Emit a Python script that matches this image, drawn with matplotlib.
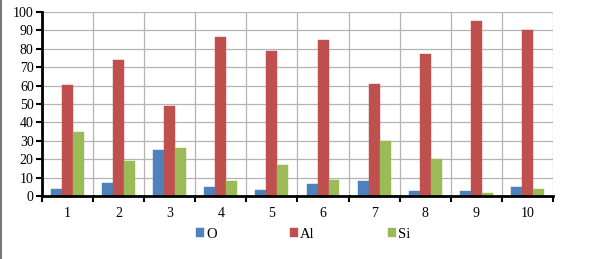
import matplotlib
matplotlib.use("Agg")
import matplotlib.pyplot as plt
import numpy as np
from matplotlib.lines import Line2D

categories = ["1", "2", "3", "4", "5", "6", "7", "8", "9", "10"]
O_vals = [4, 7, 25, 5, 3.5, 6.5, 8, 2.5, 2.5, 5]
Al_vals = [60.5, 74, 49, 86.5, 79, 84.5, 61, 77, 95, 90]
Si_vals = [35, 19, 26, 8, 17, 8.5, 30, 20, 1.5, 4]
series_names = ["O", "Al", "Si"]
colors = ["#4F81BD", "#C0504D", "#9BBB59"]

plt.rcParams['font.family'] = ['Liberation Serif', 'DejaVu Serif']

fig = plt.figure(figsize=(6.04, 2.59), dpi=100)
ax = fig.add_axes([0.0695, 0.243, 0.846, 0.711])

x = np.arange(1, len(categories) + 1)
w = 0.215
for i, (vals, name, c) in enumerate(zip([O_vals, Al_vals, Si_vals], series_names, colors)):
    ax.bar(x + (i - 1) * w, vals, width=w, color=c, label=name, zorder=3,
           edgecolor=c, linewidth=0.3)

ax.set_xlim(0.5, len(categories) + 0.5)
ax.set_ylim(0, 100)
ax.set_yticks(np.arange(0, 101, 10))
ax.set_xticks(np.arange(0.5, len(categories) + 1, 1))
ax.set_xticklabels([])
ax.set_xticks(x, minor=True)
ax.set_xticklabels(categories, minor=True)
ax.tick_params(axis='x', which='major', length=4, width=1.5, direction='out', color='black')
ax.tick_params(axis='x', which='minor', length=0, pad=8, labelsize=10)
ax.tick_params(axis='y', length=4, width=1.5, direction='out', labelsize=10, pad=2)
ax.grid(True, which='major', color='#B4B4B4', linewidth=0.9, zorder=0)
ax.set_axisbelow(True)
for s in ['top', 'right']:
    ax.spines[s].set_visible(False)
ax.spines['left'].set_linewidth(2)
ax.spines['bottom'].set_linewidth(2)
ax.spines['left'].set_zorder(4)
ax.spines['bottom'].set_zorder(4)

leg = fig.legend(loc='center', bbox_to_anchor=(0.502, 0.095), ncol=3, frameon=False,
                 handlelength=0.55, handleheight=0.55, handletextpad=0.15,
                 columnspacing=5.0, fontsize=10.5)

fig.add_artist(Line2D([0.002, 0.002], [0, 1], transform=fig.transFigure, color='#777777', linewidth=1.5))

fig.savefig("out.png", dpi=100)
